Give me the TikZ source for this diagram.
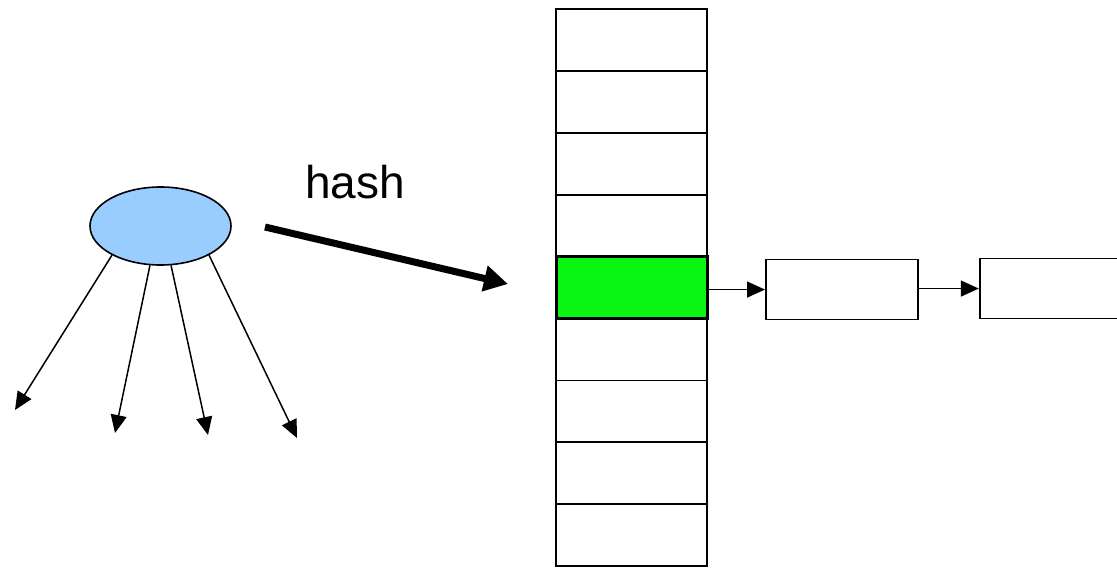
\documentclass[tikz,border=0pt]{standalone}
\usepackage{fontspec}
\setmainfont{Liberation Sans}
\usepackage{xcolor}
\usetikzlibrary{arrows.meta,positioning,shapes.geometric}

\definecolor{chave}{RGB}{153,204,255}
\definecolor{ocupado}{RGB}{10,245,20}

\begin{document}
\begin{tikzpicture}[
    x=0.5pt, y=-0.5pt,
    node distance=29pt,
    chave/.style={draw, ellipse, line width=0.8pt, fill=chave,
        minimum width=70.5pt, minimum height=39pt, inner sep=0pt},
    balde/.style={draw, line width=0.9pt, minimum width=75.5pt,
        minimum height=30.95pt, inner sep=0pt, outer sep=0pt},
    ocupado/.style={balde, fill=ocupado, line width=1.5pt},
    elo/.style={draw, line width=0.9pt, minimum width=76pt,
        minimum height=30pt, inner sep=0pt},
    ponteiro/.style={-{Triangle[length=9pt, width=8pt]}, line width=0.75pt},
    hashseta/.style={-{Triangle[length=12pt, width=12.5pt]}, line width=3.5pt}
]
    \useasboundingbox (0,0) rectangle (1117,567);

    % tabela de baldes
    \foreach \i in {1,...,9}
        \node[balde] (balde\i) at (631.5, {9+61.9*(\i-0.5)}) {};
    \node[ocupado] at (balde5) {};

    % lista encadeada
    \node[elo, right=of balde5, yshift=-1pt] (elo1) {};
    \node[elo, right=30pt of elo1, yshift=0.5pt] (elo2) {};

    \draw[ponteiro] (balde5.east |- elo1.west) -- (elo1.west);
    \draw[ponteiro] (elo1.east |- elo2.west) -- (elo2.west);

    % chave e seus filhos
    \node[chave] (chave) at (160.5,226) {};
    \coordinate (f1) at (15,410);
    \coordinate (f2) at (115,433);
    \coordinate (f3) at (208,435);
    \coordinate (f4) at (297,438);
    \draw[ponteiro] (chave.211) -- (f1);
    \draw[ponteiro] (chave.255) -- (f2);
    \draw[ponteiro] (chave.285) -- (f3);
    \draw[ponteiro] (chave.329) -- (f4);

    % funcao hash
    \coordinate (h0) at (265,227);
    \coordinate (h1) at (508,284);
    \draw[hashseta] (h0) -- (h1);
    \node[font=\fontsize{23}{27}\selectfont] (rotulo) at (355,182) {hash};
\end{tikzpicture}
\end{document}
